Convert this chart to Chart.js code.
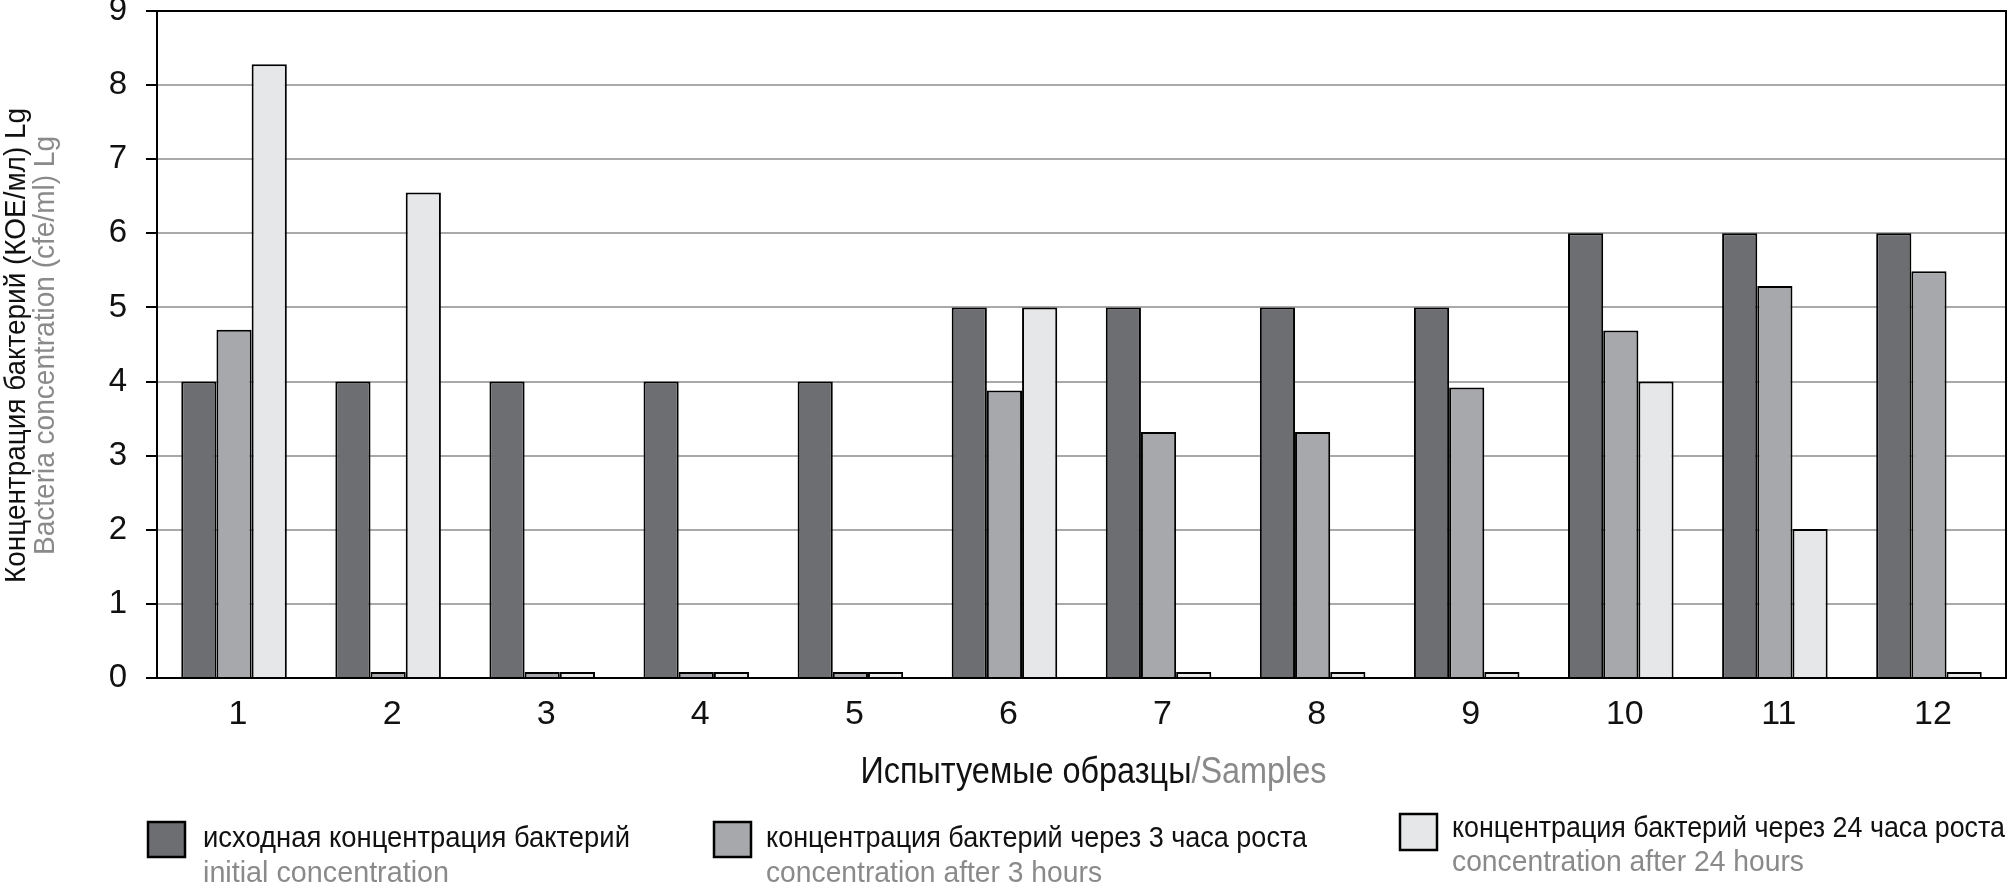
<!DOCTYPE html>
<html>
<head>
<meta charset="utf-8">
<script src="https://cdn.jsdelivr.net/npm/chart.js@4.4.1/dist/chart.umd.min.js"></script>
<style>
html,body{margin:0;padding:0;background:#ffffff;}
#wrap{width:2009px;height:891px;position:relative;}
</style>
</head>
<body>
<div id="wrap"><canvas id="c" width="2009" height="891"></canvas></div>
<script>
// ---------- data ----------
const categories = ['1','2','3','4','5','6','7','8','9','10','11','12'];
const initialConc = [4, 4, 4, 4, 4, 5, 5, 5, 5, 6, 6, 6];
const after3h     = [4.70, 0.08, 0.08, 0.08, 0.08, 3.88, 3.32, 3.32, 3.92, 4.69, 5.29, 5.49];
const after24h    = [8.28, 6.55, 0.08, 0.08, 0.08, 5.00, 0.08, 0.08, 0.08, 4.00, 2.01, 0.08];
const yTickValues = [0, 1, 2, 3, 4, 5, 6, 7, 8, 9];
const seriesRu = ['исходная концентрация бактерий', 'концентрация бактерий через 3 часа роста', 'концентрация бактерий через 24 часа роста'];
const seriesEn = ['initial concentration', 'concentration after 3 hours', 'concentration after 24 hours'];
const yTitleLines = ['Концентрация бактерий (КОЕ/мл) Lg', 'Bacteria concentration (cfe/ml) Lg'];
const xTitleParts = ['Испытуемые образцы', '/Samples'];

// ---------- styles ----------
const seriesColors = ['#6d6e71', '#a7a8ab', '#e6e7e8'];
const BLACK = '#111111';
const GREY_TEXT = '#8a8a8a';

function hasFont(name) {
  const c = document.createElement('canvas').getContext('2d');
  const s = 'abcdefghijklmnopqrstuvwxyz абвгдежзийклмн 0123456789';
  c.font = '40px monospace';
  const a = c.measureText(s).width;
  c.font = '40px "' + name + '", monospace';
  const b = c.measureText(s).width;
  return Math.abs(a - b) > 0.5;
}
const NARROW = hasFont('Liberation Sans Narrow') ? '"Liberation Sans Narrow"' : '"Liberation Sans"';
const REGULAR = '"Liberation Sans", Arial, sans-serif';

// draw text fitted horizontally to a target width
function fitText(ctx, text, x, y, size, family, color, targetW, align) {
  ctx.save();
  ctx.font = size + 'px ' + family;
  const w = ctx.measureText(text).width;
  const sx = targetW ? targetW / w : 1;
  ctx.fillStyle = color;
  ctx.textBaseline = 'alphabetic';
  ctx.textAlign = 'left';
  ctx.translate(x, y);
  ctx.scale(sx, 1);
  let ox = 0;
  if (align === 'center') ox = -w / 2;
  ctx.fillText(text, ox, 0);
  ctx.restore();
  return w * sx;
}

const decorPlugin = {
  id: 'decor',
  afterDatasetsDraw(chart) {
    const ctx = chart.ctx;
    const a = chart.chartArea;
    ctx.save();
    ctx.strokeStyle = '#000';
    ctx.lineWidth = 2;
    ctx.beginPath();
    ctx.moveTo(a.left, a.top);
    ctx.lineTo(a.right, a.top);
    ctx.lineTo(a.right, a.bottom);
    ctx.stroke();
    ctx.restore();
  },
  afterDraw(chart) {
    const ctx = chart.ctx;
    const a = chart.chartArea;
    const midY = (a.top + a.bottom) / 2 + 1;
    // y axis title (rotated)
    ctx.save();
    ctx.translate(25, midY);
    ctx.rotate(-Math.PI / 2);
    fitText(ctx, yTitleLines[0], 0, 0, 30, NARROW, BLACK, 475, 'center');
    ctx.restore();
    ctx.save();
    ctx.translate(54, midY);
    ctx.rotate(-Math.PI / 2);
    fitText(ctx, yTitleLines[1], 0, 0, 30, NARROW, GREY_TEXT, 419, 'center');
    ctx.restore();

    // x axis title
    ctx.save();
    ctx.font = '36px ' + NARROW;
    const w1 = ctx.measureText(xTitleParts[0]).width;
    const w2 = ctx.measureText(xTitleParts[1]).width;
    ctx.restore();
    const targetTotal = 466;
    const sx = targetTotal / (w1 + w2);
    const cx = (a.left + a.right) / 2 + 12;
    const x0 = cx - targetTotal / 2;
    fitText(ctx, xTitleParts[0], x0, 783, 36, NARROW, BLACK, w1 * sx);
    fitText(ctx, xTitleParts[1], x0 + w1 * sx, 783, 36, NARROW, GREY_TEXT, w2 * sx);

    // legend
    const items = [
      {sq: [148, 822, 37, 35], tx: 203, ru: 847, en: 882, wRu: 427, wEn: 246},
      {sq: [714, 822, 37, 35], tx: 766, ru: 847, en: 882, wRu: 541, wEn: 336},
      {sq: [1400, 814, 37, 36], tx: 1452, ru: 837, en: 871, wRu: 553, wEn: 352}
    ];
    items.forEach((it, i) => {
      ctx.save();
      ctx.fillStyle = seriesColors[i];
      ctx.fillRect(it.sq[0], it.sq[1], it.sq[2], it.sq[3]);
      ctx.strokeStyle = '#000';
      ctx.lineWidth = 2.5;
      ctx.strokeRect(it.sq[0], it.sq[1], it.sq[2], it.sq[3]);
      ctx.restore();
      fitText(ctx, seriesRu[i], it.tx, it.ru, 29, NARROW, BLACK, it.wRu);
      fitText(ctx, seriesEn[i], it.tx, it.en, 29, NARROW, GREY_TEXT, it.wEn);
    });
  }
};

const datasets = [initialConc, after3h, after24h].map((vals, i) => ({
  label: seriesRu[i],
  data: vals,
  backgroundColor: seriesColors[i],
  borderColor: '#000000',
  borderWidth: 2,
  categoryPercentage: 0.685,
  barPercentage: 1.0
}));

new Chart(document.getElementById('c'), {
  type: 'bar',
  data: { labels: categories, datasets },
  plugins: [decorPlugin],
  options: {
    responsive: false,
    animation: false,
    devicePixelRatio: 1,
    layout: { padding: { top: 11, right: 3, left: 0, bottom: 0 } },
    plugins: { legend: { display: false }, tooltip: { enabled: false } },
    scales: {
      x: {
        grid: { display: false, drawTicks: false },
        border: { display: true, color: '#000', width: 2 },
        ticks: { color: BLACK, font: { family: NARROW, size: 34 }, padding: 16, maxRotation: 0, labelOffset: 4 },
        afterFit(scale) { scale.height = 891 - 678; scale.paddingLeft = 0; scale.paddingRight = 0; }
      },
      y: {
        min: 0, max: 9,
        afterBuildTicks(scale) { scale.ticks = yTickValues.map(v => ({ value: v })); },
        grid: { color: '#a9a9a9', lineWidth: 2, tickColor: '#000', tickLength: 11, drawTicks: true },
        border: { display: true, color: '#000', width: 2 },
        ticks: { color: BLACK, font: { family: REGULAR, size: 33 }, padding: 19 },
        afterFit(scale) { scale.width = 157; scale.paddingTop = 0; scale.paddingBottom = 0; }
      }
    }
  }
});
</script>
</body>
</html>
